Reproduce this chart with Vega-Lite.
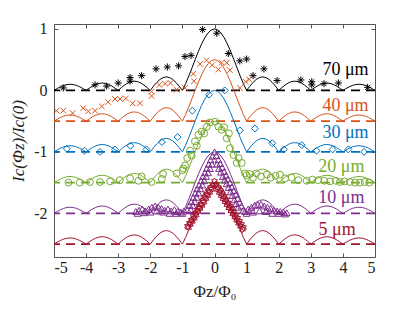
{
"$schema": "https://vega.github.io/schema/vega-lite/v6.json",
"width": 321, "height": 233,
"autosize": {"type": "none"},
"padding": {"left": 54, "top": 24, "right": 40, "bottom": 54},
"background": "white",
"config": {
 "view": {"stroke": "#555", "strokeWidth": 1},
 "font": "'Liberation Serif', 'DejaVu Serif', serif",
 "text": {"font": "'Liberation Serif', 'DejaVu Serif', serif"},
 "axis": {"domain": false, "grid": false, "tickSize": -4, "tickColor": "#555", "labelFont": "'Liberation Serif', 'DejaVu Serif', serif", "labelFontSize": 16, "labelColor": "#222", "titleFont": "'Liberation Serif', 'DejaVu Serif', serif", "titleFontSize": 17, "titleColor": "#222", "titleFontWeight": "normal"}
},
"resolve": {"axis": {"x": "independent", "y": "independent"}},
"datasets": {
 "base": [{"s":"70","b":0},{"s":"40","b":-0.5},{"s":"30","b":-1},{"s":"20","b":-1.5},{"s":"10","b":-2},{"s":"5","b":-2.5}],
 "lab": [{"t":"70 μm","x":4.8,"y":0.33,"s":"70"},{"t":"40 μm","x":4.8,"y":-0.26,"s":"40"},{"t":"30 μm","x":4.8,"y":-0.7,"s":"30"},{"t":"20 μm","x":4.67,"y":-1.24,"s":"20"},{"t":"10 μm","x":4.67,"y":-1.75,"s":"10"},{"t":"5 μm","x":4.4,"y":-2.27,"s":"5"}],
 "curve": [
{"x":-5,"a":0,"b":-0.5,"c":-1,"d":-1.5,"e":-2,"g":-2.5},
{"x":-4.9,"a":0.031,"b":-0.469,"c":-0.969,"d":-1.469,"e":-1.969,"g":-2.469},
{"x":-4.8,"a":0.059,"b":-0.441,"c":-0.941,"d":-1.441,"e":-1.941,"g":-2.441},
{"x":-4.7,"a":0.081,"b":-0.419,"c":-0.919,"d":-1.419,"e":-1.919,"g":-2.419},
{"x":-4.6,"a":0.095,"b":-0.405,"c":-0.905,"d":-1.405,"e":-1.905,"g":-2.405},
{"x":-4.5,"a":0.1,"b":-0.4,"c":-0.9,"d":-1.4,"e":-1.9,"g":-2.4},
{"x":-4.4,"a":0.095,"b":-0.405,"c":-0.905,"d":-1.405,"e":-1.905,"g":-2.405},
{"x":-4.3,"a":0.081,"b":-0.419,"c":-0.919,"d":-1.419,"e":-1.919,"g":-2.419},
{"x":-4.2,"a":0.059,"b":-0.441,"c":-0.941,"d":-1.441,"e":-1.941,"g":-2.441},
{"x":-4.1,"a":0.031,"b":-0.469,"c":-0.969,"d":-1.469,"e":-1.969,"g":-2.469},
{"x":-4,"a":0,"b":-0.5,"c":-1,"d":-1.5,"e":-2,"g":-2.5},
{"x":-3.9,"a":0.037,"b":-0.463,"c":-0.963,"d":-1.463,"e":-1.963,"g":-2.463},
{"x":-3.8,"a":0.071,"b":-0.429,"c":-0.929,"d":-1.429,"e":-1.929,"g":-2.429},
{"x":-3.7,"a":0.097,"b":-0.403,"c":-0.903,"d":-1.403,"e":-1.903,"g":-2.403},
{"x":-3.6,"a":0.114,"b":-0.386,"c":-0.886,"d":-1.386,"e":-1.886,"g":-2.386},
{"x":-3.5,"a":0.12,"b":-0.38,"c":-0.88,"d":-1.38,"e":-1.88,"g":-2.38},
{"x":-3.4,"a":0.114,"b":-0.386,"c":-0.886,"d":-1.386,"e":-1.886,"g":-2.386},
{"x":-3.3,"a":0.097,"b":-0.403,"c":-0.903,"d":-1.403,"e":-1.903,"g":-2.403},
{"x":-3.2,"a":0.071,"b":-0.429,"c":-0.929,"d":-1.429,"e":-1.929,"g":-2.429},
{"x":-3.1,"a":0.037,"b":-0.463,"c":-0.963,"d":-1.463,"e":-1.963,"g":-2.463},
{"x":-3,"a":0,"b":-0.5,"c":-1,"d":-1.5,"e":-2,"g":-2.5},
{"x":-2.9,"a":0.046,"b":-0.454,"c":-0.954,"d":-1.454,"e":-1.954,"g":-2.454},
{"x":-2.8,"a":0.088,"b":-0.412,"c":-0.912,"d":-1.412,"e":-1.912,"g":-2.412},
{"x":-2.7,"a":0.121,"b":-0.379,"c":-0.879,"d":-1.379,"e":-1.879,"g":-2.379},
{"x":-2.6,"a":0.143,"b":-0.357,"c":-0.857,"d":-1.357,"e":-1.857,"g":-2.357},
{"x":-2.5,"a":0.15,"b":-0.35,"c":-0.85,"d":-1.35,"e":-1.85,"g":-2.35},
{"x":-2.4,"a":0.143,"b":-0.357,"c":-0.857,"d":-1.357,"e":-1.857,"g":-2.357},
{"x":-2.3,"a":0.121,"b":-0.379,"c":-0.879,"d":-1.379,"e":-1.879,"g":-2.379},
{"x":-2.2,"a":0.088,"b":-0.412,"c":-0.912,"d":-1.412,"e":-1.912,"g":-2.412},
{"x":-2.1,"a":0.046,"b":-0.454,"c":-0.954,"d":-1.454,"e":-1.954,"g":-2.454},
{"x":-2,"a":0,"b":-0.5,"c":-1,"d":-1.5,"e":-2,"g":-2.5},
{"x":-1.9,"a":0.068,"b":-0.432,"c":-0.932,"d":-1.432,"e":-1.932,"g":-2.432},
{"x":-1.8,"a":0.129,"b":-0.371,"c":-0.871,"d":-1.371,"e":-1.871,"g":-2.371},
{"x":-1.7,"a":0.178,"b":-0.322,"c":-0.822,"d":-1.322,"e":-1.822,"g":-2.322},
{"x":-1.6,"a":0.209,"b":-0.291,"c":-0.791,"d":-1.291,"e":-1.791,"g":-2.291},
{"x":-1.5,"a":0.22,"b":-0.28,"c":-0.78,"d":-1.28,"e":-1.78,"g":-2.28},
{"x":-1.4,"a":0.209,"b":-0.291,"c":-0.791,"d":-1.291,"e":-1.791,"g":-2.291},
{"x":-1.3,"a":0.178,"b":-0.322,"c":-0.822,"d":-1.322,"e":-1.822,"g":-2.322},
{"x":-1.2,"a":0.129,"b":-0.371,"c":-0.871,"d":-1.371,"e":-1.871,"g":-2.371},
{"x":-1.1,"a":0.068,"b":-0.432,"c":-0.932,"d":-1.432,"e":-1.932,"g":-2.432},
{"x":-1,"a":0,"b":-0.5,"c":-1,"d":-1.5,"e":-2,"g":-2.5},
{"x":-0.9,"a":0.109,"b":-0.391,"c":-0.891,"d":-1.391,"e":-1.891,"g":-2.391},
{"x":-0.8,"a":0.234,"b":-0.266,"c":-0.766,"d":-1.266,"e":-1.766,"g":-2.266},
{"x":-0.7,"a":0.368,"b":-0.132,"c":-0.632,"d":-1.132,"e":-1.632,"g":-2.132},
{"x":-0.6,"a":0.505,"b":0.005,"c":-0.495,"d":-0.995,"e":-1.495,"g":-1.995},
{"x":-0.5,"a":0.637,"b":0.137,"c":-0.363,"d":-0.863,"e":-1.363,"g":-1.863},
{"x":-0.4,"a":0.757,"b":0.257,"c":-0.243,"d":-0.743,"e":-1.243,"g":-1.743},
{"x":-0.3,"a":0.858,"b":0.358,"c":-0.142,"d":-0.642,"e":-1.142,"g":-1.642},
{"x":-0.2,"a":0.935,"b":0.435,"c":-0.065,"d":-0.565,"e":-1.065,"g":-1.565},
{"x":-0.1,"a":0.984,"b":0.484,"c":-0.016,"d":-0.516,"e":-1.016,"g":-1.516},
{"x":0,"a":1,"b":0.5,"c":0,"d":-0.5,"e":-1,"g":-1.5},
{"x":0.1,"a":0.984,"b":0.484,"c":-0.016,"d":-0.516,"e":-1.016,"g":-1.516},
{"x":0.2,"a":0.935,"b":0.435,"c":-0.065,"d":-0.565,"e":-1.065,"g":-1.565},
{"x":0.3,"a":0.858,"b":0.358,"c":-0.142,"d":-0.642,"e":-1.142,"g":-1.642},
{"x":0.4,"a":0.757,"b":0.257,"c":-0.243,"d":-0.743,"e":-1.243,"g":-1.743},
{"x":0.5,"a":0.637,"b":0.137,"c":-0.363,"d":-0.863,"e":-1.363,"g":-1.863},
{"x":0.6,"a":0.505,"b":0.005,"c":-0.495,"d":-0.995,"e":-1.495,"g":-1.995},
{"x":0.7,"a":0.368,"b":-0.132,"c":-0.632,"d":-1.132,"e":-1.632,"g":-2.132},
{"x":0.8,"a":0.234,"b":-0.266,"c":-0.766,"d":-1.266,"e":-1.766,"g":-2.266},
{"x":0.9,"a":0.109,"b":-0.391,"c":-0.891,"d":-1.391,"e":-1.891,"g":-2.391},
{"x":1,"a":0,"b":-0.5,"c":-1,"d":-1.5,"e":-2,"g":-2.5},
{"x":1.1,"a":0.068,"b":-0.432,"c":-0.932,"d":-1.432,"e":-1.932,"g":-2.432},
{"x":1.2,"a":0.129,"b":-0.371,"c":-0.871,"d":-1.371,"e":-1.871,"g":-2.371},
{"x":1.3,"a":0.178,"b":-0.322,"c":-0.822,"d":-1.322,"e":-1.822,"g":-2.322},
{"x":1.4,"a":0.209,"b":-0.291,"c":-0.791,"d":-1.291,"e":-1.791,"g":-2.291},
{"x":1.5,"a":0.22,"b":-0.28,"c":-0.78,"d":-1.28,"e":-1.78,"g":-2.28},
{"x":1.6,"a":0.209,"b":-0.291,"c":-0.791,"d":-1.291,"e":-1.791,"g":-2.291},
{"x":1.7,"a":0.178,"b":-0.322,"c":-0.822,"d":-1.322,"e":-1.822,"g":-2.322},
{"x":1.8,"a":0.129,"b":-0.371,"c":-0.871,"d":-1.371,"e":-1.871,"g":-2.371},
{"x":1.9,"a":0.068,"b":-0.432,"c":-0.932,"d":-1.432,"e":-1.932,"g":-2.432},
{"x":2,"a":0,"b":-0.5,"c":-1,"d":-1.5,"e":-2,"g":-2.5},
{"x":2.1,"a":0.046,"b":-0.454,"c":-0.954,"d":-1.454,"e":-1.954,"g":-2.454},
{"x":2.2,"a":0.088,"b":-0.412,"c":-0.912,"d":-1.412,"e":-1.912,"g":-2.412},
{"x":2.3,"a":0.121,"b":-0.379,"c":-0.879,"d":-1.379,"e":-1.879,"g":-2.379},
{"x":2.4,"a":0.143,"b":-0.357,"c":-0.857,"d":-1.357,"e":-1.857,"g":-2.357},
{"x":2.5,"a":0.15,"b":-0.35,"c":-0.85,"d":-1.35,"e":-1.85,"g":-2.35},
{"x":2.6,"a":0.143,"b":-0.357,"c":-0.857,"d":-1.357,"e":-1.857,"g":-2.357},
{"x":2.7,"a":0.121,"b":-0.379,"c":-0.879,"d":-1.379,"e":-1.879,"g":-2.379},
{"x":2.8,"a":0.088,"b":-0.412,"c":-0.912,"d":-1.412,"e":-1.912,"g":-2.412},
{"x":2.9,"a":0.046,"b":-0.454,"c":-0.954,"d":-1.454,"e":-1.954,"g":-2.454},
{"x":3,"a":0,"b":-0.5,"c":-1,"d":-1.5,"e":-2,"g":-2.5},
{"x":3.1,"a":0.037,"b":-0.463,"c":-0.963,"d":-1.463,"e":-1.963,"g":-2.463},
{"x":3.2,"a":0.071,"b":-0.429,"c":-0.929,"d":-1.429,"e":-1.929,"g":-2.429},
{"x":3.3,"a":0.097,"b":-0.403,"c":-0.903,"d":-1.403,"e":-1.903,"g":-2.403},
{"x":3.4,"a":0.114,"b":-0.386,"c":-0.886,"d":-1.386,"e":-1.886,"g":-2.386},
{"x":3.5,"a":0.12,"b":-0.38,"c":-0.88,"d":-1.38,"e":-1.88,"g":-2.38},
{"x":3.6,"a":0.114,"b":-0.386,"c":-0.886,"d":-1.386,"e":-1.886,"g":-2.386},
{"x":3.7,"a":0.097,"b":-0.403,"c":-0.903,"d":-1.403,"e":-1.903,"g":-2.403},
{"x":3.8,"a":0.071,"b":-0.429,"c":-0.929,"d":-1.429,"e":-1.929,"g":-2.429},
{"x":3.9,"a":0.037,"b":-0.463,"c":-0.963,"d":-1.463,"e":-1.963,"g":-2.463},
{"x":4,"a":0,"b":-0.5,"c":-1,"d":-1.5,"e":-2,"g":-2.5},
{"x":4.1,"a":0.031,"b":-0.469,"c":-0.969,"d":-1.469,"e":-1.969,"g":-2.469},
{"x":4.2,"a":0.059,"b":-0.441,"c":-0.941,"d":-1.441,"e":-1.941,"g":-2.441},
{"x":4.3,"a":0.081,"b":-0.419,"c":-0.919,"d":-1.419,"e":-1.919,"g":-2.419},
{"x":4.4,"a":0.095,"b":-0.405,"c":-0.905,"d":-1.405,"e":-1.905,"g":-2.405},
{"x":4.5,"a":0.1,"b":-0.4,"c":-0.9,"d":-1.4,"e":-1.9,"g":-2.4},
{"x":4.6,"a":0.095,"b":-0.405,"c":-0.905,"d":-1.405,"e":-1.905,"g":-2.405},
{"x":4.7,"a":0.081,"b":-0.419,"c":-0.919,"d":-1.419,"e":-1.919,"g":-2.419},
{"x":4.8,"a":0.059,"b":-0.441,"c":-0.941,"d":-1.441,"e":-1.941,"g":-2.441},
{"x":4.9,"a":0.031,"b":-0.469,"c":-0.969,"d":-1.469,"e":-1.969,"g":-2.469},
{"x":5,"a":0,"b":-0.5,"c":-1,"d":-1.5,"e":-2,"g":-2.5}
 ],
 "pts": [
{"s":"70","x":-4.71,"y":0.04},{"s":"70","x":-3.72,"y":0.09},{"s":"70","x":-3.36,"y":0.07},{"s":"70","x":-3.0,"y":0.12},{"s":"70","x":-2.63,"y":0.21},{"s":"70","x":-2.63,"y":0.15},{"s":"70","x":-2.27,"y":0.24},{"s":"70","x":-1.82,"y":0.35},{"s":"70","x":-1.47,"y":0.38},{"s":"70","x":-1.12,"y":0.4},{"s":"70","x":-0.92,"y":0.55},{"s":"70","x":-0.73,"y":0.57},{"s":"70","x":-0.37,"y":0.99},{"s":"70","x":0.07,"y":0.93},{"s":"70","x":0.43,"y":0.6},{"s":"70","x":0.79,"y":0.48},{"s":"70","x":1.0,"y":0.51},{"s":"70","x":1.2,"y":0.24},{"s":"70","x":1.54,"y":0.35},{"s":"70","x":1.95,"y":0.16},{"s":"70","x":2.69,"y":0.17},{"s":"70","x":3.03,"y":0.14},{"s":"70","x":3.03,"y":0.09},{"s":"70","x":3.41,"y":0.11},{"s":"70","x":3.86,"y":0.12},{"s":"70","x":4.77,"y":0.05},
{"s":"40","x":-4.92,"y":-0.33},{"s":"40","x":-4.71,"y":-0.33},{"s":"40","x":-4.42,"y":-0.37},{"s":"40","x":-4.09,"y":-0.29},{"s":"40","x":-3.93,"y":-0.34},{"s":"40","x":-3.72,"y":-0.33},{"s":"40","x":-3.51,"y":-0.26},{"s":"40","x":-3.31,"y":-0.19},{"s":"40","x":-3.1,"y":-0.14},{"s":"40","x":-2.94,"y":-0.14},{"s":"40","x":-2.76,"y":-0.13},{"s":"40","x":-2.55,"y":-0.21},{"s":"40","x":-2.32,"y":-0.21},{"s":"40","x":-1.96,"y":-0.09},{"s":"40","x":-1.96,"y":-0.02},{"s":"40","x":-1.72,"y":0.09},{"s":"40","x":-1.54,"y":0.11},{"s":"40","x":-1.37,"y":0.12},{"s":"40","x":-1.18,"y":0.01},{"s":"40","x":-0.92,"y":0.04},{"s":"40","x":-0.66,"y":0.27},{"s":"40","x":-0.64,"y":0.15},{"s":"40","x":-0.45,"y":0.43},{"s":"40","x":-0.25,"y":0.49},{"s":"40","x":-0.07,"y":0.41},{"s":"40","x":0.12,"y":0.34},{"s":"40","x":0.22,"y":0.45},{"s":"40","x":0.38,"y":0.45},{"s":"40","x":0.48,"y":0.33},{"s":"40","x":0.79,"y":0.04},{"s":"40","x":0.97,"y":0.14},{"s":"40","x":1.08,"y":0.18},
{"s":"30","x":-4.6,"y":-0.95},{"s":"30","x":-4.05,"y":-0.98},{"s":"30","x":-3.57,"y":-1.0},{"s":"30","x":-3.1,"y":-0.96},{"s":"30","x":-2.62,"y":-0.9},{"s":"30","x":-2.12,"y":-0.96},{"s":"30","x":-1.64,"y":-0.84},{"s":"30","x":-1.15,"y":-0.76},{"s":"30","x":-0.69,"y":-0.33},{"s":"30","x":-0.17,"y":-0.07},{"s":"30","x":0.32,"y":0.0},{"s":"30","x":0.79,"y":-0.65},{"s":"30","x":1.26,"y":-0.62},{"s":"30","x":1.8,"y":-0.86},{"s":"30","x":2.16,"y":-0.96},{"s":"30","x":2.72,"y":-0.89},{"s":"30","x":3.18,"y":-0.98},{"s":"30","x":3.68,"y":-0.96},{"s":"30","x":4.17,"y":-0.96},{"s":"30","x":4.66,"y":-1.0},
{"s":"20","x":-4.55,"y":-1.5},{"s":"20","x":-4.2,"y":-1.5},{"s":"20","x":-3.88,"y":-1.49},{"s":"20","x":-3.57,"y":-1.49},{"s":"20","x":-3.25,"y":-1.48},{"s":"20","x":-2.95,"y":-1.46},{"s":"20","x":-2.63,"y":-1.43},{"s":"20","x":-2.37,"y":-1.47},{"s":"20","x":-2.27,"y":-1.4},{"s":"20","x":-1.96,"y":-1.49},{"s":"20","x":-1.64,"y":-1.44},{"s":"20","x":-1.6,"y":-1.36},{"s":"20","x":-1.18,"y":-1.35},{"s":"20","x":-1.0,"y":-1.3},
{"s":"20","x":-0.97,"y":-1.27},{"s":"20","x":-0.92,"y":-1.22},{"s":"20","x":-0.85,"y":-1.1},{"s":"20","x":-0.76,"y":-0.98},{"s":"20","x":-0.71,"y":-1.06},{"s":"20","x":-0.61,"y":-0.83},{"s":"20","x":-0.55,"y":-0.9},{"s":"20","x":-0.5,"y":-0.72},{"s":"20","x":-0.4,"y":-0.67},{"s":"20","x":-0.32,"y":-0.7},{"s":"20","x":-0.24,"y":-0.59},{"s":"20","x":-0.14,"y":-0.52},{"s":"20","x":0.02,"y":-0.51},{"s":"20","x":0.12,"y":-0.59},{"s":"20","x":0.22,"y":-0.64},{"s":"20","x":0.3,"y":-0.6},{"s":"20","x":0.38,"y":-0.78},{"s":"20","x":0.45,"y":-0.7},{"s":"20","x":0.48,"y":-0.94},{"s":"20","x":0.59,"y":-1.05},{"s":"20","x":0.69,"y":-1.18},{"s":"20","x":0.75,"y":-1.1},{"s":"20","x":0.85,"y":-1.18},{"s":"20","x":0.95,"y":-1.35},
{"s":"20","x":1.0,"y":-1.38},{"s":"20","x":1.1,"y":-1.36},{"s":"20","x":1.2,"y":-1.42},{"s":"20","x":1.3,"y":-1.35},{"s":"20","x":1.45,"y":-1.4},{"s":"20","x":1.63,"y":-1.37},{"s":"20","x":1.75,"y":-1.42},{"s":"20","x":1.9,"y":-1.39},{"s":"20","x":2.04,"y":-1.37},{"s":"20","x":2.2,"y":-1.43},{"s":"20","x":2.4,"y":-1.42},{"s":"20","x":2.61,"y":-1.46},{"s":"20","x":2.87,"y":-1.47},{"s":"20","x":3.05,"y":-1.45},{"s":"20","x":3.23,"y":-1.46},{"s":"20","x":3.42,"y":-1.47},{"s":"20","x":3.6,"y":-1.48},{"s":"20","x":3.78,"y":-1.47},{"s":"20","x":3.91,"y":-1.49},{"s":"20","x":4.05,"y":-1.48},{"s":"20","x":4.22,"y":-1.49},{"s":"20","x":4.38,"y":-1.5},{"s":"20","x":4.53,"y":-1.5},{"s":"20","x":4.68,"y":-1.49},{"s":"20","x":4.82,"y":-1.5},
{"s":"10","x":-2.45,"y":-1.97},{"s":"10","x":-2.35,"y":-1.95},{"s":"10","x":-2.25,"y":-1.93},{"s":"10","x":-2.15,"y":-1.96},{"s":"10","x":-2.05,"y":-1.93},{"s":"10","x":-1.95,"y":-1.9},{"s":"10","x":-1.85,"y":-1.88},{"s":"10","x":-1.75,"y":-1.9},{"s":"10","x":-1.65,"y":-1.92},{"s":"10","x":-1.55,"y":-1.95},{"s":"10","x":-1.45,"y":-1.93},{"s":"10","x":-1.35,"y":-1.96},{"s":"10","x":-1.25,"y":-1.94},{"s":"10","x":-1.15,"y":-1.97},{"s":"10","x":-1.05,"y":-1.98},{"s":"10","x":-0.95,"y":-1.96},
{"s":"10","x":-2.4,"y":-2.0},{"s":"10","x":-2.2,"y":-1.99},{"s":"10","x":-2.0,"y":-1.98},{"s":"10","x":-1.8,"y":-1.96},{"s":"10","x":-1.6,"y":-1.98},{"s":"10","x":-1.4,"y":-2.0},{"s":"10","x":-1.2,"y":-2.0},{"s":"10","x":-1.0,"y":-2.0},
{"s":"10","x":-0.84,"y":-1.94},{"s":"10","x":-0.78,"y":-1.87},{"s":"10","x":-0.72,"y":-1.81},{"s":"10","x":-0.66,"y":-1.74},{"s":"10","x":-0.6,"y":-1.67},{"s":"10","x":-0.54,"y":-1.6},{"s":"10","x":-0.48,"y":-1.54},{"s":"10","x":-0.42,"y":-1.47},{"s":"10","x":-0.36,"y":-1.4},{"s":"10","x":-0.3,"y":-1.34},{"s":"10","x":-0.24,"y":-1.27},{"s":"10","x":-0.18,"y":-1.2},{"s":"10","x":-0.12,"y":-1.13},{"s":"10","x":-0.06,"y":-1.07},{"s":"10","x":0,"y":-1.0},
{"s":"10","x":-0.74,"y":-1.94},{"s":"10","x":-0.68,"y":-1.87},{"s":"10","x":-0.62,"y":-1.81},{"s":"10","x":-0.56,"y":-1.74},{"s":"10","x":-0.5,"y":-1.67},{"s":"10","x":-0.44,"y":-1.6},{"s":"10","x":-0.38,"y":-1.54},{"s":"10","x":-0.32,"y":-1.47},{"s":"10","x":-0.26,"y":-1.4},{"s":"10","x":-0.2,"y":-1.34},{"s":"10","x":-0.14,"y":-1.27},{"s":"10","x":-0.08,"y":-1.2},
{"s":"10","x":0.06,"y":-1.06},{"s":"10","x":0.12,"y":-1.13},{"s":"10","x":0.18,"y":-1.19},{"s":"10","x":0.24,"y":-1.25},{"s":"10","x":0.3,"y":-1.32},{"s":"10","x":0.36,"y":-1.38},{"s":"10","x":0.42,"y":-1.44},{"s":"10","x":0.48,"y":-1.5},{"s":"10","x":0.54,"y":-1.57},{"s":"10","x":0.6,"y":-1.63},{"s":"10","x":0.66,"y":-1.69},{"s":"10","x":0.72,"y":-1.76},{"s":"10","x":0.78,"y":-1.82},{"s":"10","x":0.84,"y":-1.88},{"s":"10","x":0.9,"y":-1.95},
{"s":"10","x":0.08,"y":-1.2},{"s":"10","x":0.14,"y":-1.27},{"s":"10","x":0.2,"y":-1.33},{"s":"10","x":0.26,"y":-1.4},{"s":"10","x":0.32,"y":-1.46},{"s":"10","x":0.38,"y":-1.52},{"s":"10","x":0.44,"y":-1.58},{"s":"10","x":0.5,"y":-1.65},{"s":"10","x":0.56,"y":-1.71},{"s":"10","x":0.62,"y":-1.78},{"s":"10","x":0.68,"y":-1.84},{"s":"10","x":0.74,"y":-1.9},
{"s":"10","x":0.95,"y":-1.97},{"s":"10","x":1.05,"y":-1.93},{"s":"10","x":1.15,"y":-1.9},{"s":"10","x":1.25,"y":-1.87},{"s":"10","x":1.35,"y":-1.86},{"s":"10","x":1.45,"y":-1.85},{"s":"10","x":1.55,"y":-1.88},{"s":"10","x":1.65,"y":-1.9},{"s":"10","x":1.75,"y":-1.92},{"s":"10","x":1.85,"y":-1.95},{"s":"10","x":1.95,"y":-1.96},{"s":"10","x":2.05,"y":-1.97},{"s":"10","x":2.15,"y":-1.98},{"s":"10","x":2.25,"y":-1.99},
{"s":"10","x":1.0,"y":-2.0},{"s":"10","x":1.2,"y":-1.98},{"s":"10","x":1.4,"y":-1.96},{"s":"10","x":1.6,"y":-1.97},{"s":"10","x":1.8,"y":-2.0},{"s":"10","x":2.0,"y":-2.0},{"s":"10","x":2.2,"y":-2.01},
{"s":"5","x":-0.84,"y":-2.21},{"s":"5","x":-0.78,"y":-2.16},{"s":"5","x":-0.72,"y":-2.11},{"s":"5","x":-0.66,"y":-2.05},{"s":"5","x":-0.6,"y":-2.0},{"s":"5","x":-0.54,"y":-1.95},{"s":"5","x":-0.48,"y":-1.9},{"s":"5","x":-0.42,"y":-1.85},{"s":"5","x":-0.36,"y":-1.79},{"s":"5","x":-0.3,"y":-1.74},{"s":"5","x":-0.24,"y":-1.69},{"s":"5","x":-0.18,"y":-1.64},{"s":"5","x":-0.12,"y":-1.58},{"s":"5","x":-0.06,"y":-1.53},{"s":"5","x":0,"y":-1.48},
{"s":"5","x":-0.81,"y":-2.23},{"s":"5","x":-0.75,"y":-2.18},{"s":"5","x":-0.69,"y":-2.13},{"s":"5","x":-0.63,"y":-2.08},{"s":"5","x":-0.57,"y":-2.03},{"s":"5","x":-0.51,"y":-1.97},{"s":"5","x":-0.45,"y":-1.92},{"s":"5","x":-0.39,"y":-1.87},{"s":"5","x":-0.33,"y":-1.82},{"s":"5","x":-0.27,"y":-1.76},{"s":"5","x":-0.21,"y":-1.71},{"s":"5","x":-0.15,"y":-1.66},{"s":"5","x":-0.09,"y":-1.61},{"s":"5","x":-0.03,"y":-1.55},
{"s":"5","x":0.06,"y":-1.53},{"s":"5","x":0.12,"y":-1.58},{"s":"5","x":0.18,"y":-1.63},{"s":"5","x":0.24,"y":-1.68},{"s":"5","x":0.3,"y":-1.73},{"s":"5","x":0.36,"y":-1.78},{"s":"5","x":0.42,"y":-1.83},{"s":"5","x":0.48,"y":-1.88},{"s":"5","x":0.54,"y":-1.93},{"s":"5","x":0.6,"y":-1.98},{"s":"5","x":0.66,"y":-2.03},{"s":"5","x":0.72,"y":-2.08},{"s":"5","x":0.78,"y":-2.13},{"s":"5","x":0.84,"y":-2.18},{"s":"5","x":0.9,"y":-2.23},
{"s":"5","x":0.03,"y":-1.54},{"s":"5","x":0.09,"y":-1.61},{"s":"5","x":0.15,"y":-1.66},{"s":"5","x":0.21,"y":-1.71},{"s":"5","x":0.27,"y":-1.76},{"s":"5","x":0.33,"y":-1.81},{"s":"5","x":0.39,"y":-1.86},{"s":"5","x":0.45,"y":-1.91},{"s":"5","x":0.51,"y":-1.96},{"s":"5","x":0.57,"y":-2.01},{"s":"5","x":0.63,"y":-2.06},{"s":"5","x":0.69,"y":-2.11},{"s":"5","x":0.75,"y":-2.16},{"s":"5","x":0.81,"y":-2.21},{"s":"5","x":0.87,"y":-2.26}
 ]
},
"layer": [
 {"data": {"name": "base"},
  "mark": {"type": "rule", "strokeDash": [9, 6], "strokeWidth": 1.6},
  "encoding": {
   "y": {"field": "b", "type": "quantitative", "scale": {"domain": [-2.71, 1.08], "nice": false, "zero": false},
     "axis": {"orient": "left", "values": [1, 0, -1, -2], "labelPadding": 11, "labelExpr": "replace(datum.label, '\u2212', '-')", "title": "Ic(Φz)/Ic(0)", "titleFontStyle": "italic", "titlePadding": 6}},
   "color": {"field": "s", "type": "nominal", "scale": {"domain": ["70","40","30","20","10","5"], "range": ["#000000","#D95319","#0072BD","#77AC30","#7E2F8E","#A2142F"]}, "legend": null}
  }},
 {"data": {"name": "curve"},
  "mark": {"type": "line", "color": "#000000", "strokeWidth": 1},
  "encoding": {
   "x": {"field": "x", "type": "quantitative", "scale": {"domain": [-5, 5], "nice": false, "zero": false},
     "axis": {"orient": "bottom", "values": [-5,-4,-3,-2,-1,0,1,2,3,4,5], "labelPadding": 6, "labelExpr": "replace(datum.label, '\u2212', '-')", "title": "Φz/Φ₀", "titlePadding": 8}},
   "y": {"field": "a", "type": "quantitative", "scale": {"domain": [-2.71, 1.08], "nice": false, "zero": false}, "axis": null}
  }},
 {"data": {"name": "curve"}, "mark": {"type": "line", "color": "#D95319", "strokeWidth": 1},
  "encoding": {"x": {"field": "x", "type": "quantitative", "scale": {"domain": [-5, 5], "nice": false, "zero": false}, "axis": null},
   "y": {"field": "b", "type": "quantitative", "scale": {"domain": [-2.71, 1.08], "nice": false, "zero": false}, "axis": null}}},
 {"data": {"name": "curve"}, "mark": {"type": "line", "color": "#0072BD", "strokeWidth": 1},
  "encoding": {"x": {"field": "x", "type": "quantitative", "scale": {"domain": [-5, 5], "nice": false, "zero": false}, "axis": null},
   "y": {"field": "c", "type": "quantitative", "scale": {"domain": [-2.71, 1.08], "nice": false, "zero": false}, "axis": null}}},
 {"data": {"name": "curve"}, "mark": {"type": "line", "color": "#77AC30", "strokeWidth": 1},
  "encoding": {"x": {"field": "x", "type": "quantitative", "scale": {"domain": [-5, 5], "nice": false, "zero": false}, "axis": null},
   "y": {"field": "d", "type": "quantitative", "scale": {"domain": [-2.71, 1.08], "nice": false, "zero": false}, "axis": null}}},
 {"data": {"name": "curve"}, "mark": {"type": "line", "color": "#7E2F8E", "strokeWidth": 1},
  "encoding": {"x": {"field": "x", "type": "quantitative", "scale": {"domain": [-5, 5], "nice": false, "zero": false}, "axis": null},
   "y": {"field": "e", "type": "quantitative", "scale": {"domain": [-2.71, 1.08], "nice": false, "zero": false}, "axis": null}}},
 {"data": {"name": "curve"}, "mark": {"type": "line", "color": "#A2142F", "strokeWidth": 1},
  "encoding": {"x": {"field": "x", "type": "quantitative", "scale": {"domain": [-5, 5], "nice": false, "zero": false}, "axis": null},
   "y": {"field": "g", "type": "quantitative", "scale": {"domain": [-2.71, 1.08], "nice": false, "zero": false}, "axis": null}}},
 {"data": {"name": "pts"},
  "mark": {"type": "point", "filled": false, "strokeWidth": 1, "opacity": 1},
  "encoding": {
   "x": {"field": "x", "type": "quantitative", "scale": {"domain": [-5, 5], "nice": false, "zero": false}, "axis": null},
   "y": {"field": "y", "type": "quantitative", "scale": {"domain": [-2.71, 1.08], "nice": false, "zero": false}, "axis": null},
   "color": {"field": "s", "type": "nominal", "legend": null},
   "shape": {"field": "s", "type": "nominal", "scale": {"domain": ["70","40","30","20","10","5"], "range": ["M-1,0L1,0M0,-1L0,1M-0.7,-0.7L0.7,0.7M-0.7,0.7L0.7,-0.7", "M-0.8,-0.8L0.8,0.8M-0.8,0.8L0.8,-0.8", "diamond", "circle", "triangle-up", "M0,-1L0.29,-0.5L0.87,-0.5L0.58,0L0.87,0.5L0.29,0.5L0,1L-0.29,0.5L-0.87,0.5L-0.58,0L-0.87,-0.5L-0.29,-0.5Z"]}, "legend": null},
   "size": {"field": "s", "type": "ordinal", "scale": {"domain": ["70","40","30","20","10","5"], "range": [50, 45, 70, 60, 60, 50]}, "legend": null}
  }},
 {"data": {"name": "lab"},
  "mark": {"type": "text", "align": "right", "baseline": "middle", "font": "'Liberation Serif', 'DejaVu Serif', serif", "fontSize": 18},
  "encoding": {
   "x": {"field": "x", "type": "quantitative", "scale": {"domain": [-5, 5], "nice": false, "zero": false}, "axis": null},
   "y": {"field": "y", "type": "quantitative", "scale": {"domain": [-2.71, 1.08], "nice": false, "zero": false}, "axis": null},
   "text": {"field": "t"},
   "color": {"field": "s", "type": "nominal", "legend": null}
  }},
 {"data": {"name": "lab"},
  "mark": {"type": "point", "opacity": 0},
  "encoding": {
   "x": {"field": "x", "type": "quantitative", "scale": {"domain": [-5, 5], "nice": false, "zero": false},
     "axis": {"orient": "top", "values": [-5,-4,-3,-2,-1,0,1,2,3,4,5], "labels": false, "title": null}},
   "y": {"field": "y", "type": "quantitative", "scale": {"domain": [-2.71, 1.08], "nice": false, "zero": false},
     "axis": {"orient": "right", "values": [1, 0, -1, -2], "labels": false, "title": null}}
  }}
]
}
